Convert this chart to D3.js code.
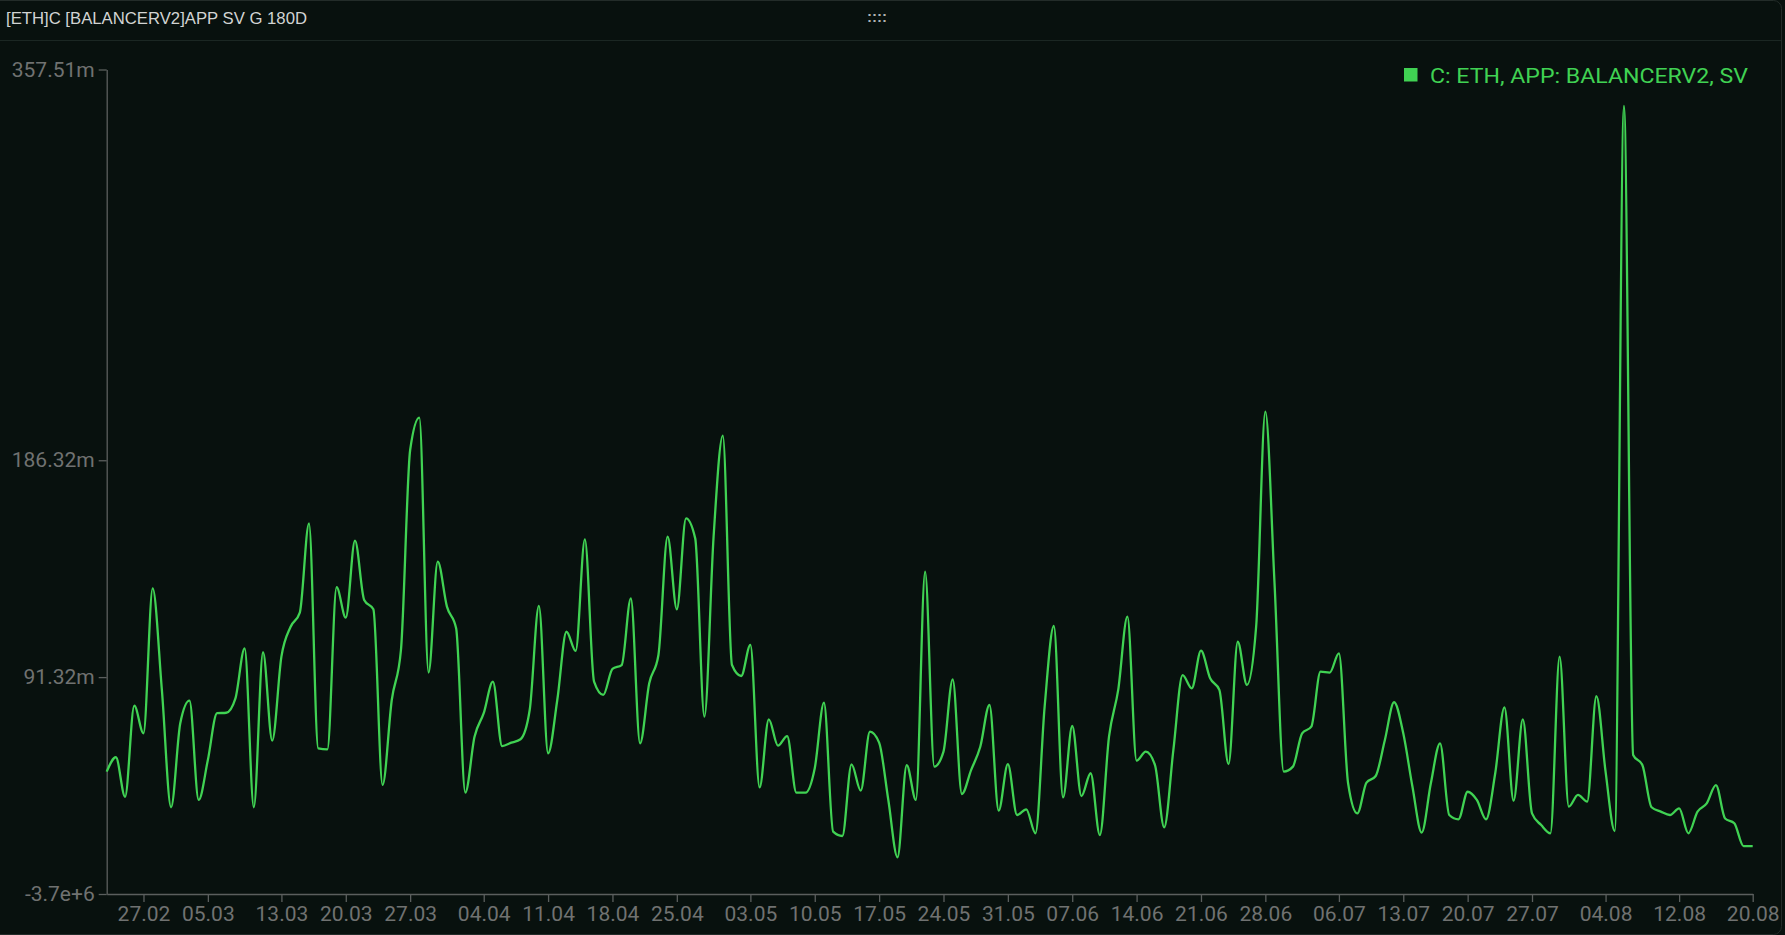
<!DOCTYPE html>
<html>
<head>
<meta charset="utf-8">
<script src="https://cdn.jsdelivr.net/npm/d3@7"></script>
<style>
  html, body { margin: 0; padding: 0; background: #08110e; overflow: hidden; }
  svg { display: block; }
</style>
</head>
<body>
<svg id="chart" width="1785" height="935"></svg>
<script>
// ---- data ----
const titleText = "[ETH]C [BALANCERV2]APP SV G 180D";
const seriesName = "C: ETH, APP: BALANCERV2, SV";
const startDate = "2024-02-23";
// daily values, in millions
const values = [
  49.9, 56.2, 38.9, 78.8, 66.7, 130.2, 85.7, 34.3, 71.1, 81.0,
  37.5, 55.0, 75.5, 75.7, 82.0, 103.9, 34.3, 102.2, 63.5, 100.3,
  113.4, 119.6, 158.7, 60.1, 59.7, 130.7, 117.4, 151.1, 125.1, 121.0,
  44.1, 81.3, 103.2, 190.8, 205.0, 93.3, 141.9, 122.2, 112.7, 40.7,
  65.2, 75.5, 89.3, 61.1, 62.6, 64.1, 76.9, 122.5, 57.9, 81.3,
  111.2, 102.8, 151.7, 89.3, 83.5, 94.9, 96.6, 125.8, 62.3, 88.6,
  101.0, 152.9, 121.0, 160.9, 152.1, 74.0, 152.9, 197.1, 96.6, 91.8,
  105.4, 43.0, 72.8, 61.3, 65.5, 40.7, 40.7, 51.4, 80.1, 23.6,
  21.7, 53.1, 41.6, 67.4, 62.6, 37.5, 12.4, 52.8, 37.5, 137.5,
  52.1, 58.7, 90.3, 40.1, 50.6, 60.8, 79.1, 32.8, 53.2, 30.9,
  33.4, 22.9, 78.4, 113.7, 38.6, 69.9, 39.2, 49.2, 22.1, 65.2,
  85.7, 117.8, 54.7, 58.7, 52.8, 25.5, 59.4, 92.2, 86.4, 102.9,
  90.8, 85.7, 53.2, 106.8, 87.9, 113.4, 207.6, 132.4, 49.9, 52.1,
  66.7, 69.6, 93.7, 93.3, 101.7, 44.8, 31.6, 45.1, 48.0, 63.8,
  80.3, 66.7, 43.3, 23.2, 44.8, 62.3, 30.9, 29.0, 41.1, 37.5,
  29.0, 49.2, 78.1, 37.2, 72.8, 31.6, 26.5, 22.9, 100.3, 34.6,
  39.7, 36.8, 83.0, 49.9, 23.9, 341.6, 57.2, 52.8, 34.3, 32.4,
  30.9, 33.8, 22.9, 32.4, 36.0, 44.0, 29.4, 27.3, 17.3, 17.3
];
const xTickDates = ["2024-02-27","2024-03-05","2024-03-13","2024-03-20","2024-03-27",
  "2024-04-04","2024-04-11","2024-04-18","2024-04-25","2024-05-03","2024-05-10",
  "2024-05-17","2024-05-24","2024-05-31","2024-06-07","2024-06-14","2024-06-21",
  "2024-06-28","2024-07-06","2024-07-13","2024-07-20","2024-07-27","2024-08-04",
  "2024-08-12","2024-08-20"];
const yDomain = [-3.7, 357.51];
const yTickValues = [-3.7, 91.32, 186.32, 357.51];
const yTickLabels = ["-3.7e+6", "91.32m", "186.32m", "357.51m"];

// ---- build ----
(function () {
const parse = d3.utcParse("%Y-%m-%d");
const start = parse(startDate);
const data = values.map((v, i) => ({ date: d3.utcDay.offset(start, i), value: v }));

const svg = d3.select("#chart");
const mLeft = 106.7, mRight = 1752.7, mTop = 69.5, mBottom = 894;

const bg = "#08110e";
const green = "#40d253";
const axisColor = "#5b5f5e";
const tickText = "#707271";

// panel border
svg.append("rect").attr("x", -12).attr("y", 0.5).attr("width", 1781.5 + 12).attr("height", 934)
  .attr("rx", 8).attr("fill", bg).attr("stroke", "#232c29").attr("stroke-width", 1);

// header
svg.append("line").attr("x1", 0).attr("x2", 1781).attr("y1", 40.5).attr("y2", 40.5)
  .attr("stroke", "#1b2723").attr("stroke-width", 1);
svg.append("text").attr("x", 6).attr("y", 23.5).text(titleText)
  .attr("fill", "#d2d4d3").attr("font-family", "Liberation Sans, Arial, sans-serif")
  .attr("font-size", 16.5).attr("textLength", 301).attr("lengthAdjust", "spacingAndGlyphs");
svg.append("text").attr("x", 877).attr("y", 22).attr("text-anchor", "middle").text("::::")
  .attr("fill", "#b0b2b1").attr("font-family", "Liberation Sans, Arial, sans-serif")
  .attr("font-size", 15).attr("font-weight", "bold");

const x = d3.scaleUtc().domain(d3.extent(data, d => d.date)).range([mLeft, mRight]);
const y = d3.scaleLinear().domain(yDomain).range([mBottom, mTop]);

// axes
const xAxis = d3.axisBottom(x)
  .tickValues(xTickDates.map(parse))
  .tickFormat(d3.utcFormat("%d.%m"))
  .tickSizeInner(8).tickSizeOuter(0).tickPadding(4);
const gx = svg.append("g").attr("transform", `translate(0,${mBottom})`).call(xAxis);

const yAxis = d3.axisLeft(y)
  .tickValues(yTickValues)
  .tickFormat((d, i) => yTickLabels[i])
  .tickSizeInner(8).tickSizeOuter(0).tickPadding(4);
const gy = svg.append("g").attr("transform", `translate(${mLeft},0)`).call(yAxis);

[gx, gy].forEach(g => {
  g.select(".domain").attr("stroke", axisColor).attr("stroke-width", 1.3);
  g.selectAll(".tick line").attr("stroke", axisColor).attr("stroke-width", 1.3);
  g.selectAll(".tick text").attr("fill", tickText)
    .attr("font-family", "Roboto, sans-serif").attr("font-size", 21);
});

// line
const line = d3.line()
  .x(d => x(d.date))
  .y(d => y(d.value))
  .curve(d3.curveMonotoneX);
svg.append("path").datum(data).attr("d", line)
  .attr("fill", "none").attr("stroke", green).attr("stroke-width", 2.3)
  .attr("stroke-linejoin", "round");

// legend
svg.append("rect").attr("x", 1404).attr("y", 68).attr("width", 13.5).attr("height", 13.5)
  .attr("fill", green);
svg.append("text").attr("x", 1430).attr("y", 82.5).text(seriesName)
  .attr("fill", green).attr("font-family", "Roboto, sans-serif").attr("font-size", 21)
  .attr("textLength", 318).attr("lengthAdjust", "spacingAndGlyphs");
})();
</script>
</body>
</html>
